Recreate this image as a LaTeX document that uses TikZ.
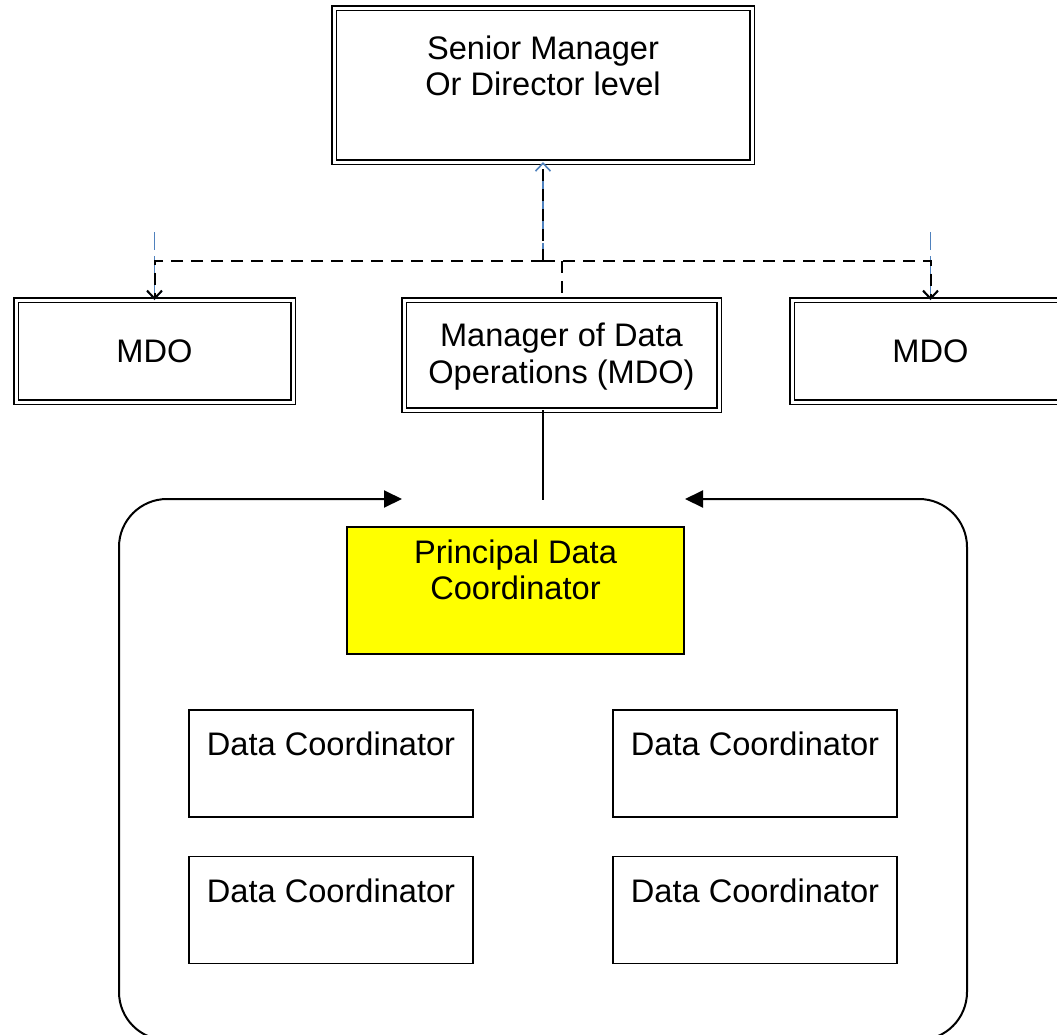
\documentclass[tikz,border=0pt]{standalone}
\usepackage{fontspec}
\setmainfont{Liberation Sans}
\usetikzlibrary{arrows.meta}
\definecolor{lnblue}{RGB}{79,129,189}
\definecolor{pdcyellow}{RGB}{255,255,0}

\begin{document}
\begin{tikzpicture}[x=0.5pt,y=-0.5pt,font=\fontsize{16.3}{18.3}\selectfont,
  dblbox/.style={draw,double,double distance=1.5pt,line width=0.7pt,inner sep=0pt,outer sep=0pt},
  plainbox/.style={draw,line width=0.75pt,inner sep=0pt,outer sep=0pt},
  toptext/.style={anchor=north,align=center,inner sep=0pt},
  dcbox/.style={plainbox,minimum width=142pt,minimum height=53.5pt,
    label={[toptext,yshift=-10.75pt]north:Data Coordinator}},
  dsh/.style={dash pattern=on 6pt off 4pt,line width=1pt},
  bludsh/.style={dash pattern=on 9pt off 3pt,draw=lnblue,line width=0.8pt},
  vtip/.style={-{Straight Barb[length=4pt,width=7.5pt]}},
  ftip/.style={{Triangle[length=9pt,width=8.5pt]}-{Triangle[length=9pt,width=8.5pt]}}]
\useasboundingbox (0,0) rectangle (1057,1035);
\clip (0,0) rectangle (1057,1035);

% top
\node (sen) [dblbox,minimum width=209pt,minimum height=77pt,
  label={[toptext,yshift=-13.5pt]north:{Senior Manager\\Or Director level}}] at (543,85) {};

% MDO row
\node (mdoL) [dblbox,minimum width=138.5pt,minimum height=51pt] at (154.5,351) {MDO};
\node (mdoC) [dblbox,minimum width=157.5pt,minimum height=55pt,
  label={[toptext,yshift=-11.25pt]north:{Manager of Data\\Operations (MDO)}}] at (561.5,355) {};
\node (mdoR) [dblbox,minimum width=138.5pt,minimum height=51pt] at (930.5,351) {MDO};

% dashed links
\coordinate (hub) at (543,261);
\coordinate (bL) at ([yshift=34pt]mdoL.north);
\coordinate (bR) at ([yshift=34pt]mdoR.north);
\draw[bludsh,vtip] (bL) -- (mdoL.north);
\draw[bludsh,vtip] (bR) -- (mdoR.north);
\draw[bludsh,vtip] (hub) -- (sen.south);
\draw[dsh] (hub) -- (sen.south);
\draw[dsh,vtip] (hub) -| (mdoL.north);
\draw[dsh,vtip] (hub) -| (mdoR.north);
\draw[dsh] (hub -| mdoC.north) -- (mdoC.north);

% team
\coordinate (link) at (543,500);
\draw[line width=0.8pt] (link |- mdoC.south) -- (link);
\coordinate (inL) at (402,499);
\coordinate (inR) at (685,499);
\draw[line width=1pt,rounded corners=24pt,ftip] (inL) -- (119,499) -- (119,1040) -- (967,1040) -- (967,499) -- (inR);

\node (pdc) [plainbox,fill=pdcyellow,minimum width=168.5pt,minimum height=63.5pt,
  label={[toptext,yshift=-6pt]north:{Principal Data\\Coordinator}}] at (515.5,590.5) {};
\node (dc1) [dcbox] at (331,763.5) {};
\node (dc2) [dcbox] at (755,763.5) {};
\node (dc3) [dcbox] at (331,910) {};
\node (dc4) [dcbox] at (755,910) {};
\end{tikzpicture}
\end{document}
